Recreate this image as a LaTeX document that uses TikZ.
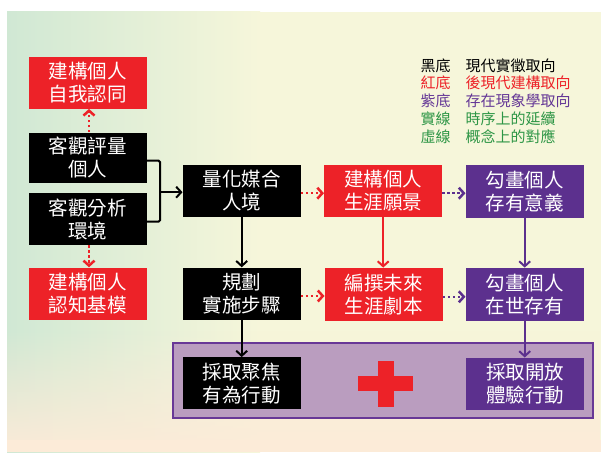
\documentclass[tikz,border=0pt]{standalone}
\usepackage{fontspec}
\newfontfamily\cjk{Noto Sans CJK TC}
\usetikzlibrary{arrows.meta,fadings,calc}
\definecolor{bxred}{RGB}{237,34,40}
\definecolor{bxpurple}{RGB}{92,48,142}
\definecolor{lgreen}{RGB}{46,150,70}
\definecolor{lpurple}{RGB}{100,55,150}
\definecolor{panelfill}{RGB}{186,157,191}
\definecolor{panelline}{RGB}{104,56,150}
\definecolor{bgtop}{RGB}{246,246,218}
\definecolor{bgbot}{RGB}{252,235,216}
\definecolor{bggreen}{RGB}{208,232,212}
\begin{document}
\begin{tikzpicture}[x=1pt,y=-1pt,
  box/.style={rectangle, minimum width=118pt, minimum height=52pt, inner sep=0pt,
    text=white, align=center, font=\cjk\fontsize{19.5}{23.3}\selectfont},
  blkbox/.style={box, fill=black},
  redbox/.style={box, fill=bxred},
  purbox/.style={box, fill=bxpurple},
  leg/.style={anchor=west, inner sep=0pt, font=\cjk\fontsize{15}{17}\selectfont},
  arr/.style={-{Straight Barb[length=5pt,width=11pt]}, line width=2pt},
  dotarr/.style={arr, line width=2.5pt, dash pattern=on 2.5pt off 2.5pt},
]
\useasboundingbox (0,0) rectangle (601,452);
% background
\fill[white] (0,0) rectangle (601,452);
\fill[bgtop] (7,12) rectangle (601,452);
\shade[left color=bggreen, right color=bgtop] (7,12) rectangle (260,452);
\fill[bgbot, path fading=north] (7,330) rectangle (601,452);
\fill[bgbot] (7,440) rectangle (601,452);

% left column
\node[redbox] (r1) at (87.5,82.7) {建構個人\\自我認同};
\node[blkbox, minimum height=50pt] (a) at (87.5,157.6) {客觀評量\\個人};
\node[blkbox] (b) at (87.5,219.2) {客觀分析\\環境};
\node[redbox] (r2) at (87.5,293.5) {建構個人\\認知基模};

% panel
\node[draw=panelline, line width=2pt, fill=panelfill, rectangle,
      minimum width=420.5pt, minimum height=75.6pt, inner sep=0pt] (panel) at (383.2,380.5) {};

% grid
\node[blkbox] (c) at (241.7,190.7) {量化媒合\\人境};
\node[redbox] (d) at (383.2,190.7) {建構個人\\生涯願景};
\node[purbox, minimum height=53pt] (e) at (524.7,191.3) {勾畫個人\\存有意義};
\node[blkbox] (f) at (241.7,293.5) {規劃\\實施步驟};
\node[redbox, minimum height=53pt] (g) at (383.7,294.3) {編撰未來\\生涯劇本};
\node[purbox, minimum height=53pt] (h) at (524.7,294.3) {勾畫個人\\在世存有};
\node[blkbox] (i) at (241.7,383.3) {採取聚焦\\有為行動};
\node[purbox] (j) at (525,383.7) {採取開放\\體驗行動};

% red cross
\fill[bxred] (357.7,376) rectangle (413.3,391);
\fill[bxred] (378,360.5) rectangle (393.5,406.5);

% legend
\node[leg] (l1a) at (420.5,65.5) {黑底};
\node[leg] (l1b) at (465.5,65.5) {現代實徵取向};
\node[leg, text=bxred] (l2a) at (420.5,83.3) {紅底};
\node[leg, text=bxred] (l2b) at (465.5,83.3) {後現代建構取向};
\node[leg, text=lpurple] (l3a) at (420.5,101.2) {紫底};
\node[leg, text=lpurple] (l3b) at (465.5,101.2) {存在現象學取向};
\node[leg, text=lgreen] (l4a) at (420.5,119.2) {實線};
\node[leg, text=lgreen] (l4b) at (465.5,119.2) {時序上的延續};
\node[leg, text=lgreen] (l5a) at (420.5,136.7) {虛線};
\node[leg, text=lgreen] (l5b) at (465.5,136.7) {概念上的對應};

% connectors
\draw[dotarr, bxred] ([xshift=1.5pt]a.north) -- ([xshift=1.5pt]r1.south);
\draw[dotarr, bxred] ([xshift=1.5pt]b.south) -- ([xshift=1.5pt]r2.north);
\coordinate (brk) at (160,192.2);
\draw[line width=2pt, rounded corners=1.5pt] ([yshift=-3pt]a.east) -| (brk) |- ([yshift=-2.5pt]b.east);
\draw[arr] (brk) -- (brk -| c.west);
\draw[dotarr, bxred] ([yshift=-2.5pt]c.east) -- ([yshift=-2.5pt]d.west);
\draw[dotarr, bxpurple] ([yshift=-2.5pt]d.east) -- ([yshift=-2.5pt]d.east -| e.west);
\draw[dotarr, bxred] ([yshift=-2.5pt]f.east) -- ([yshift=-2.5pt]f.east -| g.west);
\draw[dotarr, bxpurple] ([yshift=-2.5pt]g.east) -- ([yshift=-2.5pt]g.east -| h.west);
\draw[arr] (c.south) -- (f.north);
\draw[arr, bxred] (d.south) -- (d.south |- g.north);
\draw[arr, bxpurple] (e.south) -- (h.north);
\draw[arr] (f.south) -- (i.north);
\draw[arr, bxpurple] (h.south) -- (h.south |- j.north);
\end{tikzpicture}
\end{document}
